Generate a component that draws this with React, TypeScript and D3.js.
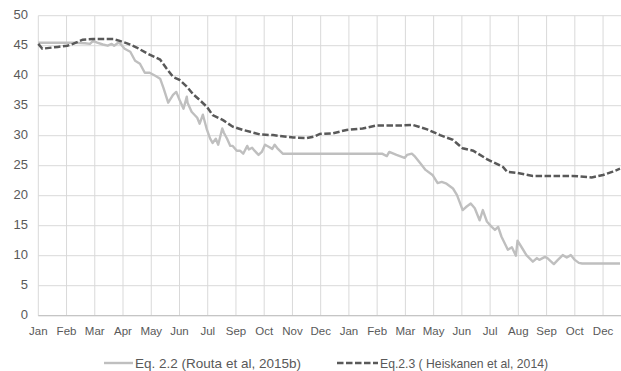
import React from "react";
import * as d3 from "d3";

const tickLabels = ["Jan","Feb","Mar","Apr","May","Jun","Jul","Sep","Oct","Nov","Dec","Jan","Feb","Mar","May","Jun","Jul","Aug","Sep","Oct","Dec"];
const yTicks = [0,5,10,15,20,25,30,35,40,45,50];

const routaDays = [0,45,58,64,68,73,80,86,91,94,99,102,107,114,120,126,132,138,145,151,155,161,167,171,175,180,184,185,190,197,200,204,209,213,216,220,223,228,230,234,238,241,246,250,254,259,261,265,268,273,277,281,285,290,293,297,303,426,432,435,444,454,457,463,467,473,480,489,495,500,506,514,519,526,531,536,541,547,551,556,562,566,570,574,582,587,592,594,600,605,613,618,621,628,631,639,644,650,655,660,665,670,674,721];
const routaValues = [45.5,45.5,45.4,45.3,45.8,45.5,45.2,45.0,45.3,45.0,45.5,45.3,44.5,44,42.5,42,40.5,40.5,40,39.5,38,35.5,36.8,37.3,36,34.5,36.5,35.5,34,33,32,33.5,31,29.5,28.8,29.5,28.5,31.2,30.5,29.5,28.3,28.3,27.5,27.5,27,28.3,27.7,28,27.5,26.8,27.3,28.5,28.2,27.8,28.5,27.8,27,27,26.6,27.3,26.8,26.3,26.8,27,26.5,25.5,24.3,23.4,22.1,22.3,22,21.2,20.1,17.6,18.2,18.7,17.9,15.9,17.6,15.7,14.8,14.3,14.8,13.2,11,11.4,10,12.5,11.2,10.1,9,9.6,9.3,9.8,9.6,8.6,9.3,10.1,9.7,10.1,9.3,8.8,8.7,8.7];

const heisDays = [0,5,24,36,43,55,68,93,101,110,122,135,151,159,167,175,184,192,200,209,216,229,241,254,275,291,316,333,343,349,365,382,402,419,448,464,482,498,514,526,539,556,576,581,593,613,638,662,686,700,712,721];
const heisValues = [45.3,44.5,44.8,45.0,45.3,46.0,46.1,46.1,45.8,45.4,44.7,43.7,42.7,41.2,39.8,39.3,38.2,36.9,35.95,34.8,33.45,32.6,31.5,30.95,30.2,30.1,29.7,29.6,29.9,30.3,30.4,30.95,31.2,31.7,31.7,31.8,31.05,30.1,29.3,27.9,27.5,26.1,24.8,24,23.8,23.3,23.3,23.3,23.05,23.45,24,24.5];

const TICK_STEP = 35;
const LAST_DAY = 721;

export default function App() {
  const W = 621, H = 371;
  const left = 38.3, right = 620, top = 15.7, bottom = 315.7;
  const x = d3.scaleLinear().domain([0, LAST_DAY]).range([left, right]);
  const y = d3.scaleLinear().domain([0, 50]).range([bottom, top]);
  const line = d3.line<[number, number]>().x(d => x(d[0])).y(d => y(d[1]));
  const routa: [number, number][] = routaDays.map((d, i) => [d, routaValues[i]]);
  const heis: [number, number][] = heisDays.map((d, i) => [d, heisValues[i]]);
  const font = "Liberation Sans, Arial, sans-serif";
  const textColor = "#595959";
  return (
    <svg width={W} height={H} style={{ position: "absolute", left: 0, top: 0, background: "#fff" }}>
      <rect width={W} height={H} fill="#fff" />
      {yTicks.map(t => (
        <line key={"h" + t} x1={left} x2={W} y1={y(t)} y2={y(t)} stroke="#d9d9d9" strokeWidth={1} />
      ))}
      {tickLabels.map((l, i) => (
        <line key={"v" + i} x1={x(i * TICK_STEP)} x2={x(i * TICK_STEP)} y1={top} y2={bottom} stroke="#d9d9d9" strokeWidth={1} />
      ))}
      <line x1={left} x2={W} y1={bottom} y2={bottom} stroke="#bfbfbf" strokeWidth={1} />
      {yTicks.map(t => (
        <text key={"yl" + t} x={28} y={y(t) - 1} dy="0.35em" textAnchor="end" fontFamily={font} fontSize={13} fill={textColor}>{t}</text>
      ))}
      {tickLabels.map((l, i) => (
        <text key={"xl" + i} x={x(i * TICK_STEP)} y={335} textAnchor="middle" fontFamily={font} fontSize={11.5} fill={textColor}>{l}</text>
      ))}
      <path d={line(routa) || ""} fill="none" stroke="#bfbfbf" strokeWidth={2.4} strokeLinejoin="round" />
      <path d={line(heis) || ""} fill="none" stroke="#595959" strokeWidth={2.5} strokeDasharray="6.5,2.5" />
      <line x1={104} x2={133} y1={363} y2={363} stroke="#bfbfbf" strokeWidth={2.4} />
      <text x={135} y={367.5} fontFamily={font} fontSize={13.4} fill={textColor} textLength={166} lengthAdjust="spacingAndGlyphs">Eq. 2.2 (Routa et al, 2015b)</text>
      <line x1={337} x2={378} y1={363} y2={363} stroke="#595959" strokeWidth={2.5} strokeDasharray="6.5,2.5" />
      <text x={380} y={367.5} fontFamily={font} fontSize={13.4} fill={textColor} textLength={168} lengthAdjust="spacingAndGlyphs">Eq.2.3 ( Heiskanen et al, 2014)</text>
    </svg>
  );
}
